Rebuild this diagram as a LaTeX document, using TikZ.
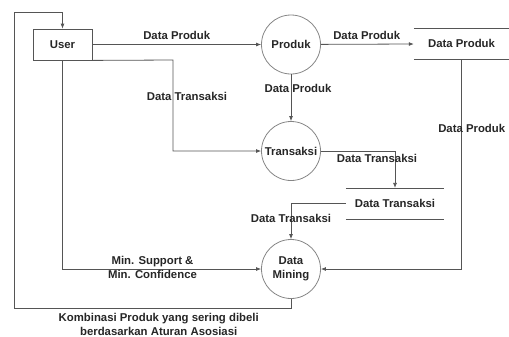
\documentclass[tikz,border=0pt]{standalone}
\usepackage{fontspec}
\setmainfont{Liberation Sans}
\usepackage{tikz}
\usetikzlibrary{arrows.meta}
\definecolor{lne}{HTML}{555555}
\definecolor{rim}{HTML}{858585}
\tikzset{proc/.style={circle,draw=rim,line width=0.8pt,minimum size=59bp,inner sep=0pt,align=center},
	ent/.style={draw=lne,line width=0.8pt,minimum width=59bp,minimum height=31bp,inner sep=0pt},
	store/.style={minimum height=31bp,inner sep=0pt},
	lbl/.style={inner sep=0pt,align=center},
	flow/.style={draw=lne,line width=0.8pt,-{Latex[length=5bp,width=4bp]}}}

\begin{document}
\begin{tikzpicture}[x=1bp,y=-1bp,font=\fontsize{11.4}{14}\selectfont\bfseries,text=black!85]
\useasboundingbox (0,0) rectangle (509,336);
\node [ent] (u) at (62.5,44.5) {User};
\node [proc] (p) at (291,44.5) {Produk};
\node [proc] (t) at (291,151) {Transaksi};
\node [proc] (m) at (291,269) {Data\\Mining};
\node [store,minimum width=95bp] (dp) at (461.5,43.8) {Data Produk};
\node [store,minimum width=98bp] (dt) at (395,203.6) {Data Transaksi};
\draw [lne,line width=0.8pt] (dp.north west) -- (dp.north east) (dp.south west) -- (dp.south east);
\draw [lne,line width=0.8pt] (dt.north west) -- (dt.north east) (dt.south west) -- (dt.south east);
\coordinate (k) at (173,60);
\coordinate (fa) at (291,308);
\coordinate (fb) at (14.5,308);
\coordinate (fc) at (14.5,12.7);
\path [flow] (u) -- (p);
\path [flow] (p) -- (dp);
\path [flow] (p) -- (t);
\path [flow] (u.south east) -- (k) |- (t.west);
\path [flow] (t.east) -| (dt.north);
\path [flow] (dt.west) -| (m.north);
\path [flow] (u.south) |- (m.west);
\path [flow] (dp.south) |- (m.east);
\path [flow] (m.south) -- (fa) -- (fb) -- (fc) -| (u.north);
\node [lbl] (l1) at (176.7,35) {Data Produk};
\node [lbl] (l2) at (366.7,35) {Data Produk};
\node [lbl] (l3) at (298,88) {Data Produk};
\node [lbl] (l4) at (187,96) {Data Transaksi};
\node [lbl] (l5) at (377,158) {Data Transaksi};
\node [lbl] (l6) at (291,218) {Data Transaksi};
\node [lbl] (l7) at (152.5,267.5) {Min. Support \&\\Min. Confidence};
\node [lbl] (l8) at (471.7,128.7) {Data Produk};
\node [lbl] (l9) at (158.7,324) {Kombinasi Produk yang sering dibeli\\berdasarkan Aturan Asosiasi};
\end{tikzpicture}
\end{document}
